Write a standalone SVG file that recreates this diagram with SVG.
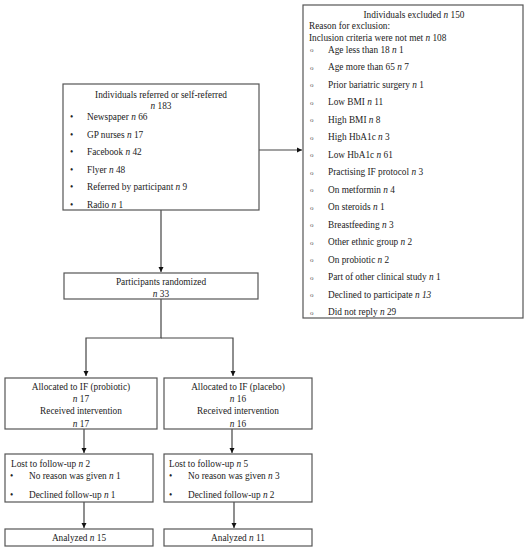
<svg xmlns="http://www.w3.org/2000/svg" width="528" height="550" viewBox="0 0 528 550">
<style>
.box{fill:#fff;stroke:#555;stroke-width:1.2}
text{font-family:"Liberation Serif","Times New Roman",serif;font-size:9.3px;fill:#222}
.c{text-anchor:middle}
.n{font-style:italic}
.o{font-size:7px;fill:#555}
.ln{fill:none;stroke:#444;stroke-width:1.2}
</style>
<defs>
<marker id="ah" markerWidth="6" markerHeight="6" refX="5" refY="3" orient="auto" markerUnits="userSpaceOnUse">
<path d="M0,0.5 L5,3 L0,5.5 z" fill="#111"/>
</marker>
</defs>
<rect width="528" height="550" fill="#fff"/>
<g id="connectors">
<line class="ln" x1="259" y1="150" x2="302" y2="150" marker-end="url(#ah)"/>
<line class="ln" x1="161" y1="210" x2="161" y2="272" marker-end="url(#ah)"/>
<polyline class="ln" points="161,299 161,338 86,338 86,376" marker-end="url(#ah)"/>
<polyline class="ln" points="161,338 233,338 233,376" marker-end="url(#ah)"/>
<line class="ln" x1="84" y1="429" x2="84" y2="453" marker-end="url(#ah)"/>
<line class="ln" x1="232" y1="429" x2="232" y2="453" marker-end="url(#ah)"/>
<line class="ln" x1="84" y1="502" x2="84" y2="528" marker-end="url(#ah)"/>
<line class="ln" x1="234" y1="502" x2="234" y2="528" marker-end="url(#ah)"/>
</g>
<g id="referred">
<rect class="box" x="63" y="84" width="196" height="126"/>
<text class="c" x="161" y="98">Individuals referred or self-referred</text>
<text class="c" x="161" y="108.5"><tspan class="n">n</tspan> 183</text>
<text x="70" y="120">•</text><text x="87" y="120">Newspaper <tspan class="n">n</tspan> 66</text>
<text x="70" y="137.5">•</text><text x="87" y="137.5">GP nurses <tspan class="n">n</tspan> 17</text>
<text x="70" y="155">•</text><text x="87" y="155">Facebook <tspan class="n">n</tspan> 42</text>
<text x="70" y="172.5">•</text><text x="87" y="172.5">Flyer <tspan class="n">n</tspan> 48</text>
<text x="70" y="190">•</text><text x="87" y="190">Referred by participant <tspan class="n">n</tspan> 9</text>
<text x="70" y="207.5">•</text><text x="87" y="207.5">Radio <tspan class="n">n</tspan> 1</text>
</g>
<g id="excluded">
<rect class="box" x="303" y="5" width="220" height="313"/>
<text class="c" x="414" y="17.5">Individuals excluded <tspan class="n">n</tspan> 150</text>
<text x="309" y="28.5">Reason for exclusion:</text>
<text x="309" y="40.5">Inclusion criteria were not met <tspan class="n">n</tspan> 108</text>
<text class="o" x="310" y="52">o</text>
<text class="o" x="310" y="69.5">o</text>
<text class="o" x="310" y="87">o</text>
<text class="o" x="310" y="104.5">o</text>
<text class="o" x="310" y="122">o</text>
<text class="o" x="310" y="139.5">o</text>
<text class="o" x="310" y="157">o</text>
<text class="o" x="310" y="174.5">o</text>
<text class="o" x="310" y="192">o</text>
<text class="o" x="310" y="209.5">o</text>
<text class="o" x="310" y="227">o</text>
<text class="o" x="310" y="244.5">o</text>
<text class="o" x="310" y="262">o</text>
<text class="o" x="310" y="279.5">o</text>
<text class="o" x="310" y="297">o</text>
<text class="o" x="310" y="314.5">o</text>
<text x="328" y="52.5">Age less than 18 <tspan class="n">n</tspan> 1</text>
<text x="328" y="70">Age more than 65 <tspan class="n">n</tspan> 7</text>
<text x="328" y="87.5">Prior bariatric surgery <tspan class="n">n</tspan> 1</text>
<text x="328" y="105">Low BMI <tspan class="n">n</tspan> 11</text>
<text x="328" y="122.5">High BMI <tspan class="n">n</tspan> 8</text>
<text x="328" y="140">High HbA1c <tspan class="n">n</tspan> 3</text>
<text x="328" y="157.5">Low HbA1c <tspan class="n">n</tspan> 61</text>
<text x="328" y="175">Practising IF protocol <tspan class="n">n</tspan> 3</text>
<text x="328" y="192.5">On metformin <tspan class="n">n</tspan> 4</text>
<text x="328" y="210">On steroids <tspan class="n">n</tspan> 1</text>
<text x="328" y="227.5">Breastfeeding <tspan class="n">n</tspan> 3</text>
<text x="328" y="245">Other ethnic group <tspan class="n">n</tspan> 2</text>
<text x="328" y="262.5">On probiotic <tspan class="n">n</tspan> 2</text>
<text x="328" y="280">Part of other clinical study <tspan class="n">n</tspan> 1</text>
<text x="328" y="297.5">Declined to participate <tspan class="n">n 13</tspan></text>
<text x="328" y="315">Did not reply <tspan class="n">n</tspan> 29</text>
</g>
<g id="randomized">
<rect class="box" x="64" y="273" width="194" height="26"/>
<text class="c" x="161" y="284.5">Participants randomized</text>
<text class="c" x="161" y="296.5"><tspan class="n">n</tspan> 33</text>
</g>
<g id="probiotic">
<rect class="box" x="5" y="378" width="152" height="51"/>
<text class="c" x="81" y="390">Allocated to IF (probiotic)</text>
<text class="c" x="81" y="402"><tspan class="n">n</tspan> 17</text>
<text class="c" x="81" y="414">Received intervention</text>
<text class="c" x="81" y="426.5"><tspan class="n">n</tspan> 17</text>
</g>
<g id="placebo">
<rect class="box" x="164" y="378" width="148" height="51"/>
<text class="c" x="238" y="390">Allocated to IF (placebo)</text>
<text class="c" x="238" y="402"><tspan class="n">n</tspan> 16</text>
<text class="c" x="238" y="414">Received intervention</text>
<text class="c" x="238" y="426.5"><tspan class="n">n</tspan> 16</text>
</g>
<g id="lost-probiotic">
<rect class="box" x="5" y="454" width="148" height="48"/>
<text x="11" y="467">Lost to follow-up <tspan class="n">n</tspan> 2</text>
<text x="10" y="479">•</text><text x="29" y="479">No reason was given <tspan class="n">n</tspan> 1</text>
<text x="10" y="498">•</text><text x="29" y="498">Declined follow-up <tspan class="n">n</tspan> 1</text>
</g>
<g id="lost-placebo">
<rect class="box" x="164" y="454" width="148" height="48"/>
<text x="169" y="467">Lost to follow-up <tspan class="n">n</tspan> 5</text>
<text x="169" y="479">•</text><text x="188" y="479">No reason was given <tspan class="n">n</tspan> 3</text>
<text x="169" y="498">•</text><text x="188" y="498">Declined follow-up <tspan class="n">n</tspan> 2</text>
</g>
<g id="analyzed-probiotic">
<rect class="box" x="5" y="529" width="148" height="17"/>
<text class="c" x="79" y="541">Analyzed <tspan class="n">n</tspan> 15</text>
</g>
<g id="analyzed-placebo">
<rect class="box" x="164" y="529" width="148" height="17"/>
<text class="c" x="238" y="541">Analyzed <tspan class="n">n</tspan> 11</text>
</g>
</svg>
